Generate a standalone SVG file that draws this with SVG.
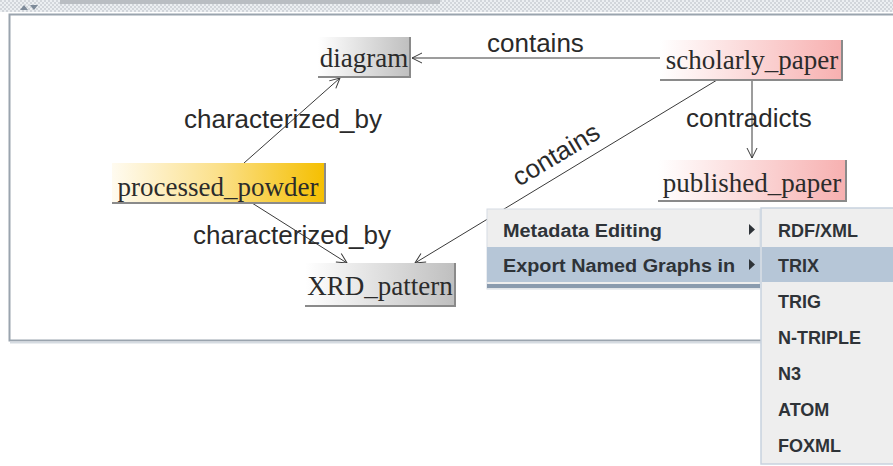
<svg xmlns="http://www.w3.org/2000/svg" width="893" height="466" viewBox="0 0 893 466">
  <defs>
    <style>
      .node-label { font-family: "Liberation Serif", "Times New Roman", serif; font-size: 27px; fill: #2b2b2b; text-anchor: middle; }
      .edge-label { font-family: "Liberation Sans", Arial, sans-serif; font-size: 26px; fill: #2a2a2a; }
      .edge { stroke: #3a3a3a; stroke-width: 1; fill: none; }
      .shade { stroke: #8a8a8a; stroke-width: 2; fill: none; }
      .menu-text { font-family: "Liberation Sans", Arial, sans-serif; font-size: 18px; font-weight: bold; fill: #2e3338; }
    </style>
    <marker id="arrow" viewBox="0 0 12 12" refX="11" refY="6" markerWidth="12" markerHeight="12" markerUnits="userSpaceOnUse" orient="auto">
      <path d="M1,1 L11,6 L1,11" fill="none" stroke="#3a3a3a" stroke-width="1"/>
    </marker>
    <linearGradient id="g-gray" x1="0" y1="0" x2="1" y2="0">
      <stop offset="0" stop-color="#ffffff"/>
      <stop offset="1" stop-color="#bfbfbf"/>
    </linearGradient>
    <linearGradient id="g-pink" x1="0" y1="0" x2="1" y2="0">
      <stop offset="0" stop-color="#ffffff"/>
      <stop offset="1" stop-color="#f7b0b0"/>
    </linearGradient>
    <linearGradient id="g-gold" x1="0" y1="0" x2="1" y2="0">
      <stop offset="0" stop-color="#fffbf0"/>
      <stop offset="0.5" stop-color="#fbe08a"/>
      <stop offset="1" stop-color="#f5bf00"/>
    </linearGradient>
    <pattern id="hatch" width="4" height="4" patternUnits="userSpaceOnUse">
      <rect width="4" height="4" fill="#eceff2"/>
      <rect width="2" height="2" fill="#d2d6db"/>
      <rect x="2" y="2" width="2" height="2" fill="#d2d6db"/>
    </pattern>
  </defs>

  <!-- window background -->
  <rect x="0" y="0" width="893" height="466" fill="#ffffff"/>

  <!-- title strip -->
  <rect x="0" y="0" width="893" height="12" fill="url(#hatch)"/>
  <rect x="60" y="0" width="380" height="4" fill="#b9bdc2"/>
  <path d="M20,10 L24,5 L28,10 Z M30,5 L34,10 L38,5 Z" fill="#7d8a99"/>

  <!-- panel frame -->
  <rect x="9.5" y="14.5" width="890" height="326" fill="#ffffff" stroke="#9aa4ae" stroke-width="2"/>
  <line x1="10" y1="342.5" x2="893" y2="342.5" stroke="#d5dbe1" stroke-width="2"/>

  <!-- connectors -->
  <g id="connectors">
    <line class="edge" x1="660" y1="58" x2="412" y2="58" marker-end="url(#arrow)"/>
    <line class="edge" x1="244" y1="163" x2="340" y2="78" marker-end="url(#arrow)"/>
    <line class="edge" x1="252" y1="203" x2="347" y2="263" marker-end="url(#arrow)"/>
    <line class="edge" x1="717" y1="80" x2="415" y2="263" marker-end="url(#arrow)"/>
    <line class="edge" x1="752" y1="80" x2="752" y2="158" marker-end="url(#arrow)"/>
    <text class="edge-label" x="487" y="52">contains</text>
    <text class="edge-label" x="184" y="128">characterized_by</text>
    <text class="edge-label" x="193" y="244">characterized_by</text>
    <text class="edge-label" x="686" y="127">contradicts</text>
    <text class="edge-label" x="519" y="187" transform="rotate(-31 519 187)">contains</text>
  </g>

  <!-- nodes -->
  <g id="node-diagram">
    <rect x="318" y="37" width="92" height="40" fill="url(#g-gray)"/>
    <polyline class="shade" points="318,77 410,77 410,37"/>
    <text class="node-label" x="364" y="67">diagram</text>
  </g>
  <g id="node-scholarly_paper">
    <rect x="660" y="40" width="182" height="40" fill="url(#g-pink)"/>
    <polyline class="shade" points="660,80 842,80 842,40"/>
    <text class="node-label" x="752" y="69">scholarly_paper</text>
  </g>
  <g id="node-processed_powder">
    <rect x="112" y="163" width="213" height="40" fill="url(#g-gold)"/>
    <polyline class="shade" points="112,203 325,203 325,163"/>
    <text class="node-label" x="218" y="196">processed_powder</text>
  </g>
  <g id="node-published_paper">
    <rect x="658" y="160" width="188" height="41" fill="url(#g-pink)"/>
    <polyline class="shade" points="658,201 846,201 846,160"/>
    <text class="node-label" x="752" y="192">published_paper</text>
  </g>
  <g id="node-XRD_pattern">
    <rect x="305" y="263" width="150" height="43" fill="url(#g-gray)"/>
    <polyline class="shade" points="305,306 455,306 455,263"/>
    <text class="node-label" x="380" y="295">XRD_pattern</text>
  </g>

  <!-- context menu -->
  <g id="menu-main">
    <rect x="487" y="209" width="273" height="80" fill="#eeeeee" stroke="#d6dce3" stroke-width="1"/>
    <rect x="487" y="247" width="273" height="35" fill="#b6c6d7"/>
    <rect x="487" y="284" width="273" height="4" fill="#8a9bae"/>
    <text class="menu-text" x="503" y="237" textLength="159" lengthAdjust="spacingAndGlyphs">Metadata Editing</text>
    <text class="menu-text" x="503" y="272" textLength="232" lengthAdjust="spacingAndGlyphs">Export Named Graphs in</text>
    <path d="M749,224 L755,229.5 L749,235 Z" fill="#2e3338"/>
    <path d="M749,259 L755,264.5 L749,270 Z" fill="#2e3338"/>
  </g>
  <g id="menu-export">
    <rect x="761" y="208" width="135" height="256" fill="#eeeeee" stroke="#c8d2de" stroke-width="1.5"/>
    <rect x="762" y="247" width="131" height="35" fill="#b6c6d7"/>
    <text class="menu-text" x="778" y="237">RDF/XML</text>
    <text class="menu-text" x="778" y="272">TRIX</text>
    <text class="menu-text" x="778" y="308">TRIG</text>
    <text class="menu-text" x="778" y="344">N-TRIPLE</text>
    <text class="menu-text" x="778" y="380">N3</text>
    <text class="menu-text" x="778" y="416">ATOM</text>
    <text class="menu-text" x="778" y="452">FOXML</text>
  </g>
</svg>
